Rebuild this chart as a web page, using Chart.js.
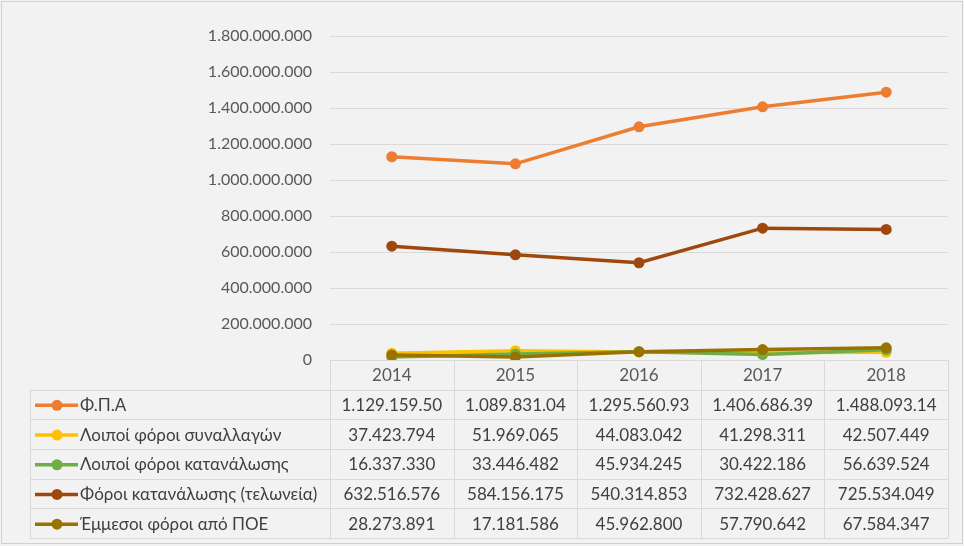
<!DOCTYPE html>
<html>
<head>
<meta charset="utf-8">
<script src="https://cdn.jsdelivr.net/npm/chart.js@4"></script>
<style>
    html, body { margin: 0; padding: 0; background: #f2f2f2; }
    #wrap { width: 964px; height: 546px; }
</style>
</head>
<body>
<div id="wrap"><canvas id="taxChart" width="964" height="546"></canvas></div>
<script>
const years = ['2014', '2015', '2016', '2017', '2018'];
const yTicks = [0, 200000000, 400000000, 600000000, 800000000, 1000000000, 1200000000, 1400000000, 1600000000, 1800000000];

const fpa = [1129159500, 1089831040, 1295560930, 1406686390, 1488093140];
const otherTransactions = [37423794, 51969065, 44083042, 41298311, 42507449];
const otherConsumption = [16337330, 33446482, 45934245, 30422186, 56639524];
const customsConsumption = [632516576, 584156175, 540314853, 732428627, 725534049];
const poeIndirect = [28273891, 17181586, 45962800, 57790642, 67584347];

const seriesNames = ['Φ.Π.Α', 'Λοιποί φόροι συναλλαγών', 'Λοιποί φόροι κατανάλωσης', 'Φόροι κατανάλωσης (τελωνεία)', 'Έμμεσοι φόροι από ΠΟΕ'];
const seriesColors = ['#ed7d31', '#ffc000', '#70ad47', '#9e480e', '#997300'];

const FONT = "Lato, 'Noto Sans', 'DejaVu Sans', sans-serif";

// dotted thousands, like the source sheet
function dots(n) {
    return String(n).replace(/\B(?=(\d{3})+(?!\d))/g, '.');
}

// the VAT row is shown in thousands with two decimals in the source table
function fmtCell(seriesIdx, v) {
    if (seriesIdx === 0) {
        const parts = (v / 1000).toFixed(2).split('.');
        return dots(parts[0]) + '.' + parts[1];
    }
    return dots(v);
}

const allSeries = [fpa, otherTransactions, otherConsumption, customsConsumption, poeIndirect];

const datasets = allSeries.map((data, i) => ({
    label: seriesNames[i],
    data: data,
    borderColor: seriesColors[i],
    backgroundColor: seriesColors[i],
    borderWidth: 3.5,
    pointRadius: 5.5,
    pointHoverRadius: 5.5,
    pointBorderWidth: 0,
    tension: 0,
    order: allSeries.length - i
}));

// background + frame
const backgroundPlugin = {
    id: 'backgroundPlugin',
    beforeDraw(chart) {
        const ctx = chart.ctx;
        ctx.save();
        ctx.fillStyle = '#f2f2f2';
        ctx.fillRect(0, 0, chart.width, chart.height);
        ctx.strokeStyle = '#d0d0d0';
        ctx.lineWidth = 1;
        ctx.strokeRect(1.5, 1.5, chart.width - 3, chart.height - 4);
        ctx.restore();
    }
};

// Excel style data table under the plot
const dataTablePlugin = {
    id: 'dataTablePlugin',
    afterDraw(chart) {
        const ctx = chart.ctx;
        const area = chart.chartArea;
        const xScale = chart.scales.x;
        const colW = (area.right - area.left) / years.length;
        const tableLeft = 30;
        const headerTop = area.bottom;
        const rowTop = 389.5;
        const rowH = 29.7;
        const tableBottom = rowTop + rowH * seriesNames.length;

        ctx.save();
        ctx.strokeStyle = '#d9d9d9';
        ctx.lineWidth = 1;

        // horizontal lines
        ctx.beginPath();
        ctx.moveTo(area.left, Math.round(headerTop) + 0.5);
        ctx.lineTo(area.right, Math.round(headerTop) + 0.5);
        for (let r = 0; r <= seriesNames.length; r++) {
            const y = Math.round(rowTop + r * rowH) + 0.5;
            ctx.moveTo(tableLeft, y);
            ctx.lineTo(area.right, y);
        }
        // vertical lines
        ctx.moveTo(tableLeft + 0.5, rowTop);
        ctx.lineTo(tableLeft + 0.5, tableBottom);
        for (let c = 0; c <= years.length; c++) {
            const x = Math.round(area.left + c * colW) + 0.5;
            ctx.moveTo(x, headerTop);
            ctx.lineTo(x, tableBottom);
        }
        ctx.stroke();

        ctx.textBaseline = 'middle';
        ctx.font = '17px ' + FONT;

        // year header
        ctx.fillStyle = '#595959';
        ctx.textAlign = 'center';
        years.forEach((yr, i) => {
            ctx.fillText(yr, xScale.getPixelForValue(i), (headerTop + rowTop) / 2 + 1);
        });

        // rows
        seriesNames.forEach((name, s) => {
            const cy = rowTop + rowH * s + rowH / 2 + 1;
            // legend key
            ctx.strokeStyle = seriesColors[s];
            ctx.lineWidth = 3.5;
            ctx.beginPath();
            ctx.moveTo(35, cy);
            ctx.lineTo(78, cy);
            ctx.stroke();
            ctx.fillStyle = seriesColors[s];
            ctx.beginPath();
            ctx.arc(57, cy, 5.5, 0, Math.PI * 2);
            ctx.fill();

            ctx.fillStyle = '#404040';
            ctx.textAlign = 'left';
            const maxW = area.left - 80 - 3;
            let size = 17;
            ctx.font = size + 'px ' + FONT;
            while (ctx.measureText(name).width > maxW && size > 10) {
                size -= 0.5;
                ctx.font = size + 'px ' + FONT;
            }
            ctx.fillText(name, 80, cy);

            ctx.font = '17px ' + FONT;
            ctx.textAlign = 'center';
            allSeries[s].forEach((v, i) => {
                ctx.fillText(fmtCell(s, v), xScale.getPixelForValue(i), cy);
            });
        });
        ctx.restore();
    }
};

new Chart(document.getElementById('taxChart'), {
    type: 'line',
    data: {
        labels: years,
        datasets: datasets
    },
    options: {
        responsive: false,
        animation: false,
        events: [],
        layout: {
            padding: { left: 0, right: 16, top: 36, bottom: 186 }
        },
        plugins: {
            legend: { display: false },
            tooltip: { enabled: false },
            title: { display: false }
        },
        scales: {
            x: {
                type: 'category',
                offset: true,
                display: false
            },
            y: {
                min: 0,
                max: yTicks[yTicks.length - 1],
                afterBuildTicks(scale) {
                    scale.ticks = yTicks.map(v => ({ value: v }));
                },
                afterFit(scale) {
                    scale.width = 330;
                },
                border: { display: false },
                grid: {
                    color: (c) => c.tick && c.tick.value === 0 ? 'rgba(0,0,0,0)' : '#d9d9d9',
                    drawTicks: false,
                    lineWidth: 1
                },
                ticks: {
                    padding: 18,
                    color: '#595959',
                    font: { family: FONT, size: 16 },
                    callback: (v) => dots(v)
                }
            }
        }
    },
    plugins: [backgroundPlugin, dataTablePlugin]
});
</script>
</body>
</html>
